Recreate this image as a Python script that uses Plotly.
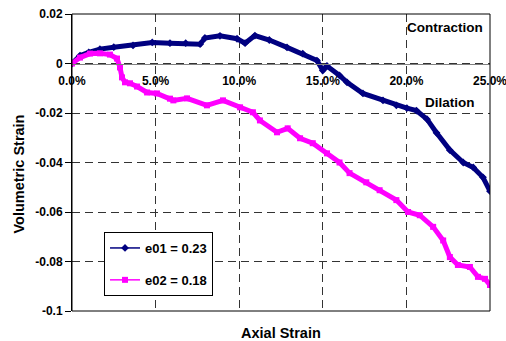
import plotly.graph_objects as go

# ---- data ----
e01_strain = [0, 0.0048, 0.010, 0.0167, 0.025, 0.0365, 0.048, 0.0586, 0.068, 0.0766, 0.0795,
              0.0885, 0.0987, 0.1035, 0.1094, 0.118, 0.1286, 0.138, 0.1465, 0.150, 0.1525,
              0.160, 0.1645, 0.174, 0.186, 0.194, 0.2003, 0.206, 0.2123, 0.218, 0.226, 0.234,
              0.240, 0.2458, 0.25]
e01_vol = [0, 0.0032, 0.0045, 0.0058, 0.0066, 0.0073, 0.0085, 0.0082, 0.0082, 0.0078, 0.0103,
           0.0112, 0.0100, 0.0082, 0.0113, 0.0095, 0.0065, 0.0040, 0.0012, -0.0028, -0.0010,
           -0.0048, -0.0076, -0.0121, -0.0149, -0.0169, -0.0180, -0.0190, -0.0225, -0.028,
           -0.035, -0.040, -0.042, -0.046, -0.0516]

e02_strain = [0, 0.0048, 0.0108, 0.0167, 0.0227, 0.0269, 0.0287, 0.0299, 0.0317, 0.0347, 0.0389,
              0.0449, 0.0508, 0.0586, 0.0606, 0.0688, 0.0807, 0.0903, 0.1005, 0.1082, 0.1124,
              0.1226, 0.129, 0.1364, 0.144, 0.1525, 0.160, 0.166, 0.176, 0.184, 0.194, 0.201,
              0.208, 0.216, 0.222, 0.226, 0.2308, 0.238, 0.2428, 0.247, 0.25]
e02_vol = [0, 0.0024, 0.0040, 0.0041, 0.0036, 0.0020, -0.0016, -0.0056, -0.0076, -0.0080, -0.0093,
           -0.0117, -0.0121, -0.0142, -0.0149, -0.0141, -0.0169, -0.0149, -0.0177, -0.0197, -0.0230,
           -0.0278, -0.0262, -0.0302, -0.0322, -0.0363, -0.0400, -0.0443, -0.048, -0.0512, -0.0552,
           -0.060, -0.0613, -0.066, -0.0715, -0.0782, -0.0814, -0.0822, -0.0862, -0.087, -0.0895]

series_names = ["e01 = 0.23", "e02 = 0.18"]
series_colors = ["#000080", "#FF00FF"]
series_symbols = ["diamond", "square"]

y_tickvals = [0.02, 0, -0.02, -0.04, -0.06, -0.08, -0.1]
y_ticktext = ["0.02", "0", "-0.02", "-0.04", "-0.06", "-0.08", "-0.1"]
x_tickvals = [0, 0.05, 0.10, 0.15, 0.20, 0.25]
x_ticktext = ["0.0%", "5.0%", "10.0%", "15.0%", "20.0%", "25.0%"]

FONT = "Liberation Sans, Arial, sans-serif"

fig = go.Figure()
data = [(e01_strain, e01_vol), (e02_strain, e02_vol)]
for i, (xs, ys) in enumerate(data):
    fig.add_trace(go.Scatter(
        x=xs, y=ys, mode="lines+markers", showlegend=False,
        line=dict(color=series_colors[i], width=5),
        marker=dict(symbol=series_symbols[i], size=6, color=series_colors[i]),
        hoverinfo="skip"))
for i in range(2):
    fig.add_trace(go.Scatter(
        x=[None], y=[None], mode="lines+markers", name=series_names[i],
        legendgroup="g%d" % i,
        line=dict(color=series_colors[i], width=1.5),
        marker=dict(symbol=series_symbols[i], size=6, color=series_colors[i])))

fig.update_layout(
    width=506, height=341,
    margin=dict(l=72, r=16, t=14, b=30, autoexpand=False),
    paper_bgcolor="white", plot_bgcolor="white",
    font=dict(family=FONT, color="black"),
    xaxis=dict(range=[0, 0.25], tickvals=x_tickvals, ticktext=x_ticktext,
               anchor="free", position=1 - 0.02 / 0.12, automargin=False,
               showline=True, linecolor="#808080", linewidth=1,
               ticks="", ticklabelstandoff=6, ticklabeloverflow="allow",
               tickfont=dict(size=12, weight="bold"),
               showgrid=True, gridcolor="#333333", gridwidth=1, griddash="8px,5px",
               zeroline=False),
    yaxis=dict(range=[-0.1, 0.02], tickvals=y_tickvals, ticktext=y_ticktext,
               automargin=False,
               showline=True, linecolor="black", linewidth=1,
               ticks="outside", ticklen=6, tickcolor="black",
               tickfont=dict(size=12, weight="bold"),
               showgrid=True, gridcolor="#333333", gridwidth=1, griddash="8px,5px",
               zeroline=False),
    legend=dict(x=0.0766, y=0.266, xanchor="left", yanchor="top",
                bgcolor="white", bordercolor="black", borderwidth=1,
                font=dict(size=13, weight="bold"), itemwidth=30,
                tracegroupgap=12),
    showlegend=True,
)

fig.add_shape(type="rect", xref="x domain", yref="y domain", x0=0, x1=1, y0=0, y1=1,
              line=dict(color="black", width=1), layer="above")

fig.add_annotation(text="Contraction", x=0.2231, y=0.0145, xref="x", yref="y",
                   showarrow=False, font=dict(size=13.5, weight="bold"))
fig.add_annotation(text="Dilation", x=0.226, y=-0.0157, xref="x", yref="y",
                   showarrow=False, font=dict(size=13.5, weight="bold"))
fig.add_annotation(text="Axial Strain", x=0.5, y=-22 / 297, xref="paper", yref="paper",
                   yanchor="middle", showarrow=False, font=dict(size=14.5, weight="bold"))
fig.add_annotation(text="Volumetric Strain", x=-53.5 / 418, y=(311 - 174) / 297,
                   xref="paper", yref="paper",
                   xanchor="center", yanchor="middle", textangle=-90, showarrow=False,
                   font=dict(size=14.5, weight="bold"))

fig.write_html("out.html")
